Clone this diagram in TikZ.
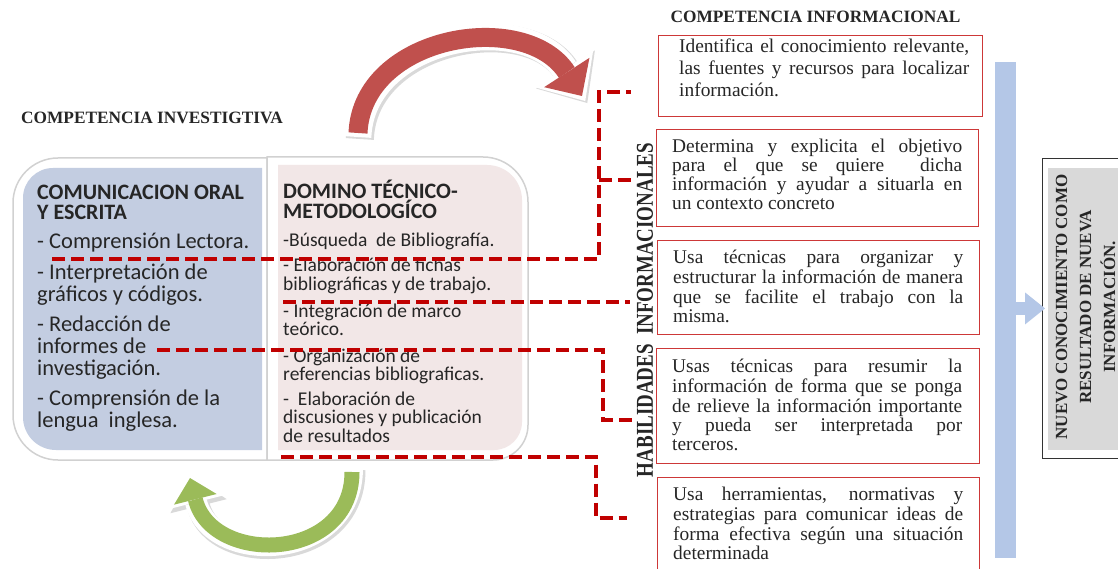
\documentclass[tikz,border=0pt]{standalone}
\usepackage{fontspec}
\usepackage{graphicx}
\setmainfont{Liberation Serif}
\newfontfamily\calib{Carlito}
\usetikzlibrary{arrows.meta,calc}
\definecolor{dred}{HTML}{C00000}
\definecolor{boxred}{HTML}{CD3838}
\definecolor{panelblue}{HTML}{C3CDE1}
\definecolor{panelpink}{HTML}{F2E7E7}
\definecolor{barblue}{HTML}{B4C7E7}
\definecolor{arrred}{HTML}{C0504D}
\definecolor{arrgreen}{HTML}{9BBB59}
\definecolor{nuevogray}{HTML}{D9D9D9}
\definecolor{txtgray}{HTML}{262626}
\newcommand{\jl}[1]{\makebox[290pt][s]{#1}}
\begin{document}
\begin{tikzpicture}[x=1pt,y=1pt,
  dashline/.style={draw=dred, line width=4pt, dash pattern=on 13pt off 6pt},
  ibox/.style={draw=boxred, line width=1.3pt, anchor=north west, inner sep=0pt},
  bl/.style={anchor=base west, inner sep=0pt, text=txtgray, font=\fontsize{19.4}{20}\selectfont},
  ltxt/.style={anchor=base west, inner sep=0pt, text=txtgray, font=\calib\fontsize{22.5}{22}\selectfont},
  lhead/.style={anchor=base west, inner sep=0pt, text=txtgray, font=\calib\bfseries\fontsize{22}{22}\selectfont},
  rtxt/.style={anchor=base west, inner sep=0pt, text=txtgray, font=\calib\fontsize{19.5}{19}\selectfont},
  title/.style={anchor=base, inner sep=0pt, text=txtgray, font=\bfseries\fontsize{17.3}{18}\selectfont},
  frame/.style={fill=white, draw=black!18, line width=1.5pt}
]
\useasboundingbox (0,0) rectangle (1118,-569);
\fill[white] (0,0) rectangle (1118,-569);

% titles
\node[title] (tInv) at (152,-124) {COMPETENCIA INVESTIGTIVA};
\node[title] (tInf) at (815.5,-23) {COMPETENCIA INFORMACIONAL};

% curved arrows
\coordinate (ra0) at (358,-133);
\coordinate (ra1) at (582,-96);
\draw[black!15, line width=28pt, -{Triangle[width=70pt,length=40pt,line width=0pt]}, shorten >=-6pt, shorten <=-4pt]
  ([shift={(2,-2)}]ra0) .. controls (364,-37) and (527,-10) .. ([shift={(2,-2)}]ra1);
\draw[white, line width=27pt, -{Triangle[width=68pt,length=38pt,line width=0pt]}, shorten >=-6pt, shorten <=-4pt]
  (ra0) .. controls (362,-35) and (525,-8) .. (ra1);
\draw[arrred, line width=19pt, -{Triangle[width=54pt,length=28pt,line width=0pt]}]
  (ra0) .. controls (362,-35) and (525,-8) .. (ra1);

\coordinate (ga0) at (352,-472);
\coordinate (ga1) at (190,-478);
\draw[black!15, line width=23pt, -{Triangle[width=58pt,length=32pt,line width=0pt]}, shorten >=-5pt, shorten <=-4pt]
  ([shift={(2,-2)}]ga0) .. controls (354,-564) and (214,-568) .. ([shift={(2,-2)}]ga1);
\draw[white, line width=22pt, -{Triangle[width=56pt,length=30pt,line width=0pt]}, shorten >=-5pt, shorten <=-4pt]
  (ga0) .. controls (352,-562) and (212,-566) .. (ga1);
\draw[arrgreen, line width=15pt, -{Triangle[width=44pt,length=22pt,line width=0pt]}]
  (ga0) .. controls (352,-562) and (212,-566) .. (ga1);

% frames
\draw[frame] (267,-158) -- (58,-158) arc[start angle=90,end angle=180,radius=45] -- (13,-415) arc[start angle=180,end angle=270,radius=45] -- (267,-460) -- cycle;
\draw[frame] (267,-157) -- (483,-157) arc[start angle=90,end angle=0,radius=45] -- (528,-425) arc[start angle=0,end angle=-90,radius=35] -- (267,-460) -- cycle;
\fill[panelblue] (262,-168) -- (53,-168) arc[start angle=90,end angle=180,radius=30] -- (23,-417) arc[start angle=180,end angle=270,radius=33] -- (262,-450) -- cycle;
\fill[panelpink] (278,-165) -- (487,-165) arc[start angle=90,end angle=0,radius=35] -- (522,-422) arc[start angle=0,end angle=-90,radius=28] -- (278,-450) -- cycle;

% left panel text
\node[lhead] (lh1) at (37,-200) {COMUNICACION ORAL};
\node[lhead] (lh2) at (37,-220) {Y ESCRITA};
\node[ltxt] (l1) at (37,-249) {- Comprensión Lectora.};
\node[ltxt] (l2) at (37,-279) {- Interpretación de};
\node[ltxt] (l3) at (37,-301) {gráficos y códigos.};
\node[ltxt] (l4) at (37,-331) {- Redacción de};
\node[ltxt] (l5) at (37,-353) {informes de};
\node[ltxt] (l6) at (37,-375) {investigación.};
\node[ltxt] (l7) at (37,-405) {- Comprensión de la};
\node[ltxt] (l8) at (37,-427) {lengua\ \ inglesa.};

% right panel text
\node[lhead] (rh1) at (283,-199) {DOMINO TÉCNICO-};
\node[lhead] (rh2) at (283,-219) {METODOLOGÍCO};
\node[rtxt] (r1) at (283,-247) {-Búsqueda\ \ de Bibliografía.};
\node[rtxt] (r2) at (283,-272) {- Elaboración de fichas};
\node[rtxt] (r3) at (283,-290) {bibliográficas y de trabajo.};
\node[rtxt] (r4) at (283,-317) {- Integración de marco};
\node[rtxt] (r5) at (283,-335) {teórico.};
\node[rtxt] (r6) at (283,-362) {- Organización de};
\node[rtxt] (r7) at (283,-380) {referencias bibliograficas.};
\node[rtxt] (r8) at (283,-405) {-\ \ Elaboración de};
\node[rtxt] (r9) at (283,-423) {discusiones y publicación};
\node[rtxt] (r10) at (283,-442) {de resultados};

% info boxes
\node[ibox, minimum width=324pt, minimum height=81pt] (b1) at (658,-35) {};
\node[ibox, minimum width=322pt, minimum height=97pt] (b2) at (656,-129) {};
\node[ibox, minimum width=322pt, minimum height=94pt] (b3) at (657,-240) {};
\node[ibox, minimum width=323pt, minimum height=115pt] (b4) at (656,-348) {};
\node[ibox, minimum width=322pt, minimum height=100pt] (b5) at (657,-477) {};

\node[bl] (b1a) at (679,-53) {\jl{Identifica el conocimiento relevante,}};
\node[bl] (b1b) at (679,-75) {\jl{las fuentes y recursos para localizar}};
\node[bl] (b1c) at (679,-97) {información.};

\node[bl] (b2a) at (672,-153) {\jl{Determina y explicita el objetivo}};
\node[bl] (b2b) at (672,-172) {\jl{para el que se quiere\ \ dicha}};
\node[bl] (b2c) at (672,-191) {\jl{información y ayudar a situarla en}};
\node[bl] (b2d) at (672,-210) {un contexto concreto};

\node[bl] (b3a) at (673,-263) {\jl{Usa técnicas para organizar y}};
\node[bl] (b3b) at (673,-283) {\jl{estructurar la información de manera}};
\node[bl] (b3c) at (673,-303) {\jl{que se facilite el trabajo con la}};
\node[bl] (b3d) at (673,-322) {misma.};

\node[bl] (b4a) at (672,-372) {\jl{Usas técnicas para resumir la}};
\node[bl] (b4b) at (672,-392) {\jl{información de forma que se ponga}};
\node[bl] (b4c) at (672,-412) {\jl{de relieve la información importante}};
\node[bl] (b4d) at (672,-431) {\jl{y pueda ser interpretada por}};
\node[bl] (b4e) at (672,-450) {terceros.};

\node[bl] (b5a) at (673,-500) {\jl{Usa herramientas, normativas y}};
\node[bl] (b5b) at (673,-520) {\jl{estrategias para comunicar ideas de}};
\node[bl] (b5c) at (673,-540) {\jl{forma efectiva según una situación}};
\node[bl] (b5d) at (673,-559) {determinada};

% vertical label
\node[rotate=90, inner sep=0pt, text=txtgray] (hab) at (645,-310) {\resizebox{334pt}{16pt}{\bfseries HABILIDADES\ \ INFORMACIONALES}};

% dashed connectors
\coordinate (s1) at (52,-259);
\coordinate (k1) at (599,-92);
\coordinate (e1) at (631,-92);
\coordinate (j1) at (599,-180);
\coordinate (e2) at (633,-180);
\coordinate (s2) at (283,-301.5);
\coordinate (e3) at (630,-301.5);
\coordinate (s3) at (157,-350);
\coordinate (k3) at (603,-420);
\coordinate (e4) at (632,-420);
\coordinate (s4) at (281,-456.5);
\coordinate (k4) at (596,-518);
\coordinate (e5) at (627,-518);
\draw[dashline] (s1) -| (k1) -- (e1);
\draw[dashline] (j1) -- (e2);
\draw[dashline] (s2) -- (e3);
\draw[dashline] (s3) -| (k3) -- (e4);
\draw[dashline] (s4) -| (k4) -- (e5);

% blue bar and result box
\node[fill=barblue, minimum width=21pt, minimum height=496pt, inner sep=0pt, anchor=north west] (bar) at (995,-62) {};
\node[draw=black!80, line width=0.9pt, minimum width=90pt, minimum height=300pt, inner sep=0pt, anchor=north west] (nv) at (1042,-158) {};
\fill[nuevogray] (1048,-168) rectangle (1130,-450);
\draw[barblue, line width=13pt, -{Triangle[width=32pt,length=20pt,line width=0pt]}] (bar.east |- nv.west) -- ([xshift=3pt]nv.west);
\node[rotate=90, align=center, inner sep=0pt, text=txtgray, font=\bfseries\fontsize{17}{24}\selectfont] (nvt) at (1085.5,-307) {NUEVO CONOCIMIENTO COMO\\RESULTADO DE NUEVA\\INFORMACIÓN.};
\end{tikzpicture}
\end{document}
